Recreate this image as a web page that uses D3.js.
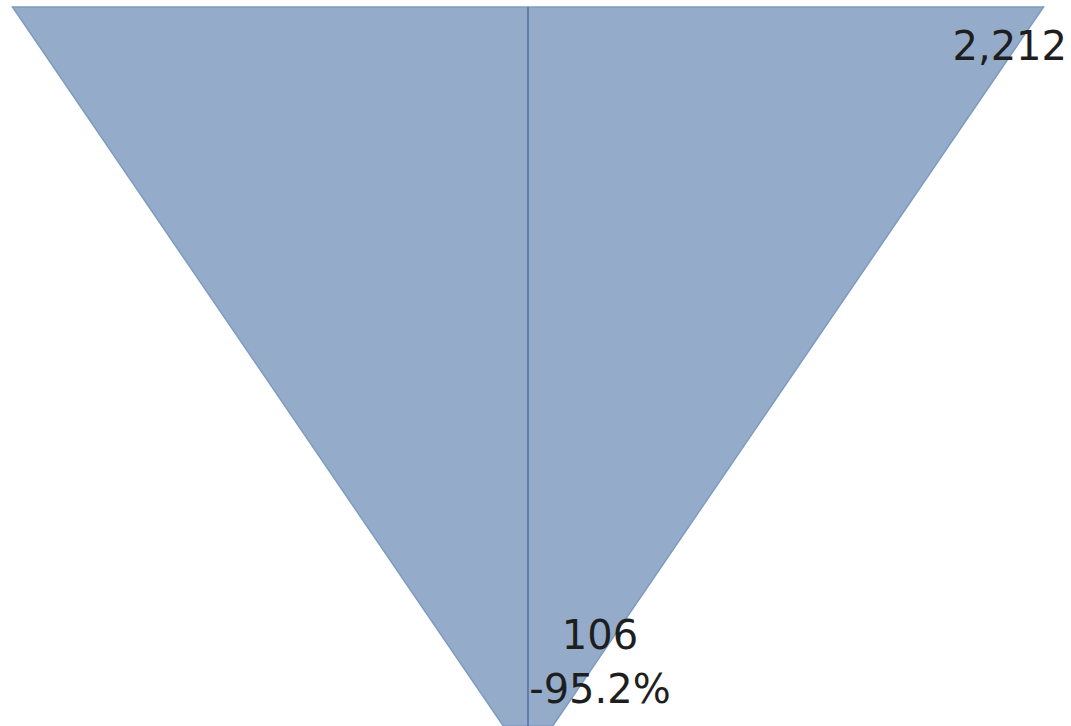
<!DOCTYPE html>
<html>
<head>
<meta charset="utf-8">
<script src="https://cdn.jsdelivr.net/npm/d3@7"></script>
<style>
  html, body { margin: 0; padding: 0; background: #fff; }
  svg { display: block; }
  text { font-family: "DejaVu Sans", sans-serif; fill: #1e1e1e; }
</style>
</head>
<body>
<div id="chart"></div>
<script>
const stages = ["Start", "End"];
const values = [2212, 106];

const W = 1071, H = 726;
const cx = 528;

const svg = d3.select("#chart").append("svg")
    .attr("width", W)
    .attr("height", H);

const y = d3.scalePoint().domain(stages).range([7, 726]);
const w = d3.scaleLinear().domain([0, d3.max(values)]).range([0, 1031]);

const pts = stages.map((s, i) => ({ stage: s, value: values[i] }));

// funnel body
const area = d3.area()
    .y(d => y(d.stage))
    .x0(d => cx - w(d.value) / 2)
    .x1(d => cx + w(d.value) / 2);

svg.append("path")
    .datum(pts)
    .attr("d", area)
    .style("fill", "#94acc9")
    .style("stroke", "#7d9bc1")
    .style("stroke-width", 1.5);

// centre line
svg.append("line")
    .attr("x1", cx).attr("x2", cx)
    .attr("y1", y(stages[0])).attr("y2", y(stages[1]))
    .style("stroke", "#4f71a0")
    .style("stroke-width", 1.5);

const fmt = d3.format(",");
// plain hyphen instead of d3's unicode minus
const pct = v => d3.format(".1%")(v).replace("\u2212", "-");

svg.append("text")
    .attr("x", 1067)
    .attr("y", 60)
    .attr("text-anchor", "end")
    .style("font-size", "40px")
    .text(fmt(values[0]));

const last = svg.append("text")
    .attr("text-anchor", "middle")
    .style("font-size", "40px");

last.append("tspan")
    .attr("x", 600)
    .attr("y", 649)
    .text(fmt(values[1]));

last.append("tspan")
    .attr("x", 600)
    .attr("y", 703)
    .text(pct((values[1] - values[0]) / values[0]));
</script>
</body>
</html>
